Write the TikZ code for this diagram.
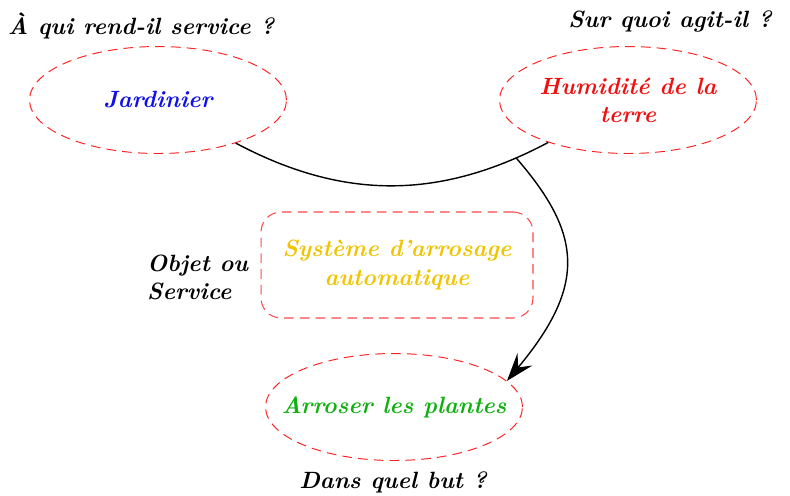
\documentclass[tikz,border=0pt]{standalone}
\usepackage{tikz}
\usetikzlibrary{shapes.geometric, arrows.meta, positioning}
\definecolor{jardblue}{HTML}{1010E8}
\definecolor{humred}{HTML}{F01010}
\definecolor{sysyellow}{HTML}{F0C400}
\definecolor{butgreen}{HTML}{10B010}
\definecolor{dashred}{HTML}{FF2020}
\definecolor{cadrered}{HTML}{FF4848}

\begin{document}
\begin{tikzpicture}[x=0.02cm, y=-0.02cm,
      txt/.style={font=\fontsize{13.4}{16}\selectfont\bfseries\itshape, align=center},
      bulle/.style={ellipse, draw=dashred, line width=0.55pt, dash pattern=on 5.5pt off 3.5pt,
                    inner sep=0pt, minimum width=5.14cm, minimum height=2.14cm, txt},
      cadre/.style={draw=cadrered, line width=0.6pt, dash pattern=on 5.5pt off 3.5pt,
                    rounded corners=0.4cm, minimum width=5.44cm, minimum height=2.12cm, txt},
      arr/.style={-{Stealth[length=16pt, width=11pt, inset=6pt]}, thick}
    ]
      \useasboundingbox (0,0) rectangle (790,495);

      \node[txt] (qui) at (141,26) {À qui rend-il service ?};
      \node[txt] (quoi) at (670,22) {Sur quoi agit-il ?};
      \node[bulle, text=jardblue] (jard) at (158,100) {Jardinier};
      \node[bulle, text=humred] (hum) at (628,100) {Humidité de la\\terre};
      \node[cadre, text=sysyellow] (sys) at (397,265) {Système d'arrosage\\automatique};
      \node[txt, align=left, anchor=west] (obj) at (141,277) {Objet ou\\Service};
      \node[bulle, label={[txt, text=butgreen]center:Arroser les plantes}] (but) at (394,407) {};
      \node[txt] (dans) at (393,482) {Dans quel but ?};

      \draw[thick] (jard.-29) to[out=-28, in=-152]
        coordinate[pos=0.9] (lien) (hum.-152);
      \draw[arr] (lien) .. controls +(66,76) and +(80,-96) .. (but.13);
    \end{tikzpicture}
\end{document}
